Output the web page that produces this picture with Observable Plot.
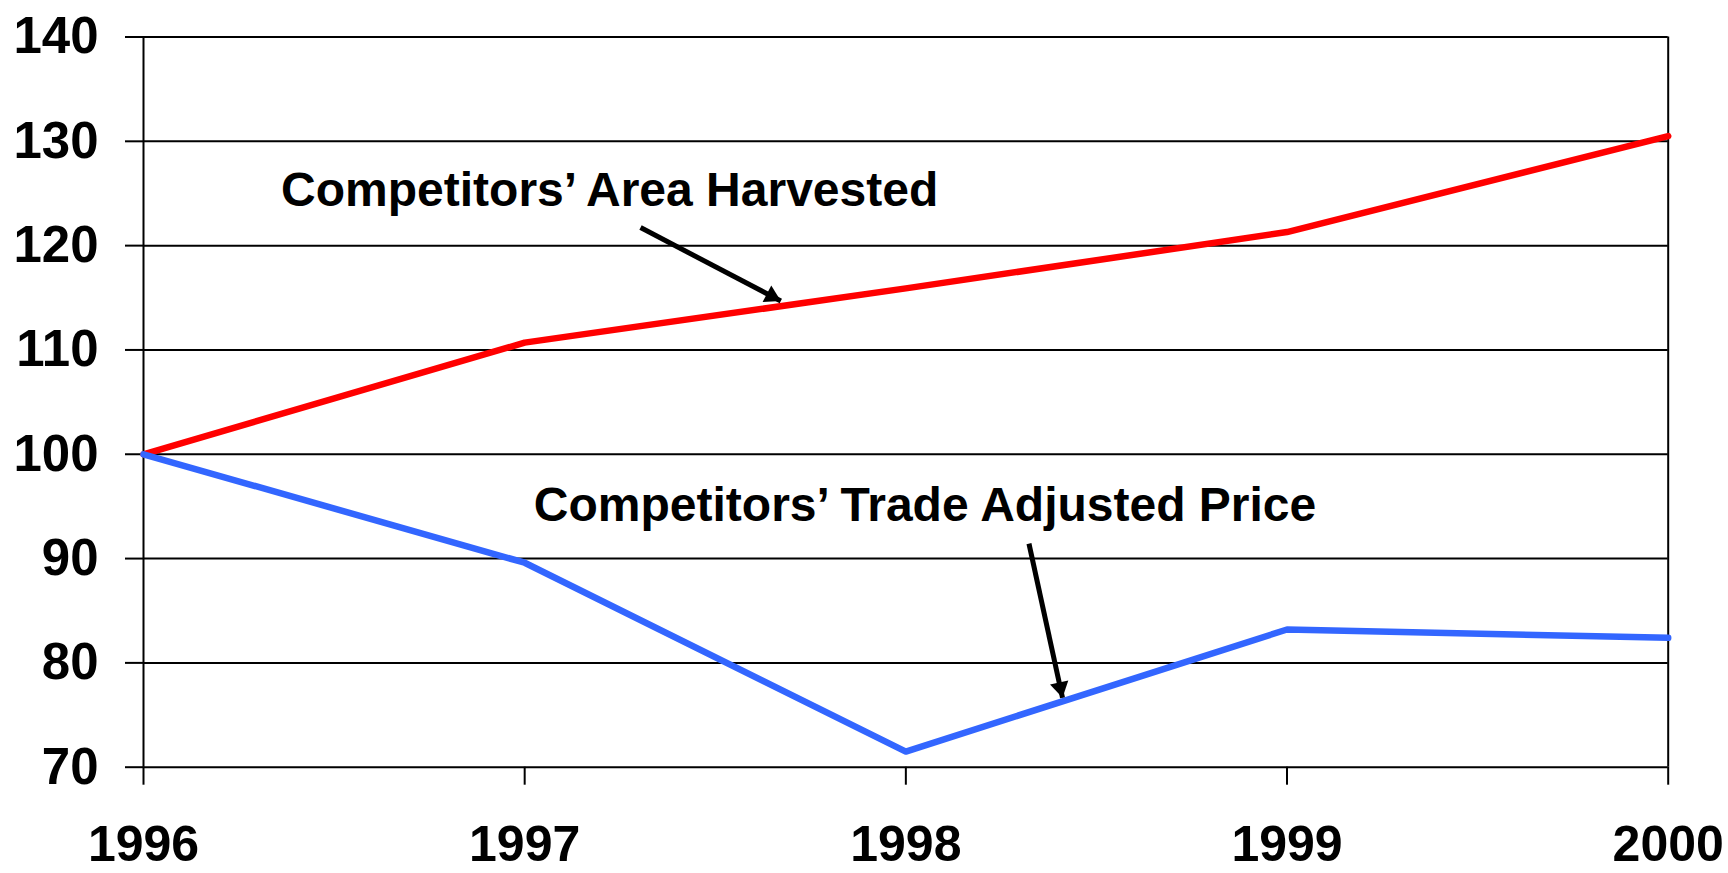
<!DOCTYPE html>
<html>
<head>
<meta charset="utf-8">
<script src="https://cdn.jsdelivr.net/npm/d3@7"></script>
<script src="https://cdn.jsdelivr.net/npm/@observablehq/plot@0.6"></script>
<style>
  html, body { margin: 0; padding: 0; background: #fff; }
  #chart svg { display: block; }
</style>
</head>
<body>
<div id="chart"></div>
<script>
// ---- data ----
const years = [1996, 1997, 1998, 1999, 2000];
const areaHarvested = [100, 110.7, 115.9, 121.3, 130.5];
const tradeAdjustedPrice = [100, 89.6, 71.5, 83.2, 82.4];
const yTicks = [70, 80, 90, 100, 110, 120, 130, 140];

// annotations (data coordinates)
const labelText = ["Competitors\u2019 Area Harvested", "Competitors\u2019 Trade Adjusted Price"];
const labelX = [1996.361, 1997.024];
const labelY = [123.8, 93.6];
const arrowX1 = [1997.304, 1998.323];
const arrowY1 = [121.73, 91.43];
const arrowX2 = [1997.672, 1998.411];
const arrowY2 = [114.70, 76.66];

// ---- tables built from arrays ----
const seriesData = [
  ...years.map((y, i) => ({year: y, value: areaHarvested[i], series: "area"})),
  ...years.map((y, i) => ({year: y, value: tradeAdjustedPrice[i], series: "price"}))
];
const labelData = labelText.map((t, i) => ({text: t, x: labelX[i], y: labelY[i]}));
const arrowData = arrowX1.map((x, i) => ({x1: x, y1: arrowY1[i], x2: arrowX2[i], y2: arrowY2[i]}));

function headMarker(color) {
  const m = d3.create("svg:marker")
    .attr("viewBox", "-5 -5 10 10")
    .attr("markerWidth", 6.67)
    .attr("markerHeight", 6.67)
    .attr("refX", 3.5)
    .attr("refY", 0)
    .attr("orient", "auto")
    .attr("fill", color)
    .attr("stroke", "none");
  m.append("path").attr("d", "M-1.2,-2.8L3.5,0L-1.2,2.8Z");
  return m.node();
}

const font = "'Liberation Sans', Arial, Helvetica, sans-serif";

function build(marker) {
  return Plot.plot({
    width: 1728,
    height: 873,
    marginTop: 36.5,
    marginBottom: 106.3,
    marginLeft: 143,
    marginRight: 60.3,
    style: {fontFamily: font, fontWeight: "bold", fontSize: "51px", color: "black", background: "white"},
    x: {domain: [1996, 2000]},
    y: {domain: [70, 140]},
    marks: [
      Plot.gridY(yTicks, {stroke: "black", strokeOpacity: 1, strokeWidth: 2}),
      Plot.ruleX([1996, 2000], {stroke: "black", strokeWidth: 2}),
      Plot.axisY({ticks: yTicks, tickSize: 18, tickPadding: 27, strokeWidth: 2, fontSize: 51, fontWeight: "bold", fontFamily: font, label: null}),
      Plot.axisX({ticks: years, tickSize: 18, tickPadding: 40, strokeWidth: 2, tickFormat: d => String(d), fontSize: 50, fontWeight: "bold", fontFamily: font, label: null}),
      Plot.line(seriesData, {
        x: "year", y: "value", z: "series",
        stroke: d => d.series === "area" ? "#ff0000" : "#3366ff",
        strokeWidth: 6.5, strokeLinecap: "round", strokeLinejoin: "round"
      }),
      Plot.link(arrowData, {
        x1: "x1", y1: "y1", x2: "x2", y2: "y2",
        stroke: "black", strokeWidth: 5, markerEnd: marker
      }),
      Plot.text(labelData, {
        x: "x", y: "y", text: "text",
        textAnchor: "start", lineAnchor: "bottom",
        fontSize: 48, fontWeight: "bold", fontFamily: font, fill: "black"
      })
    ]
  });
}

let chart;
try { chart = build(headMarker); } catch (e) { chart = build("arrow"); }
document.getElementById("chart").append(chart);
</script>
</body>
</html>
